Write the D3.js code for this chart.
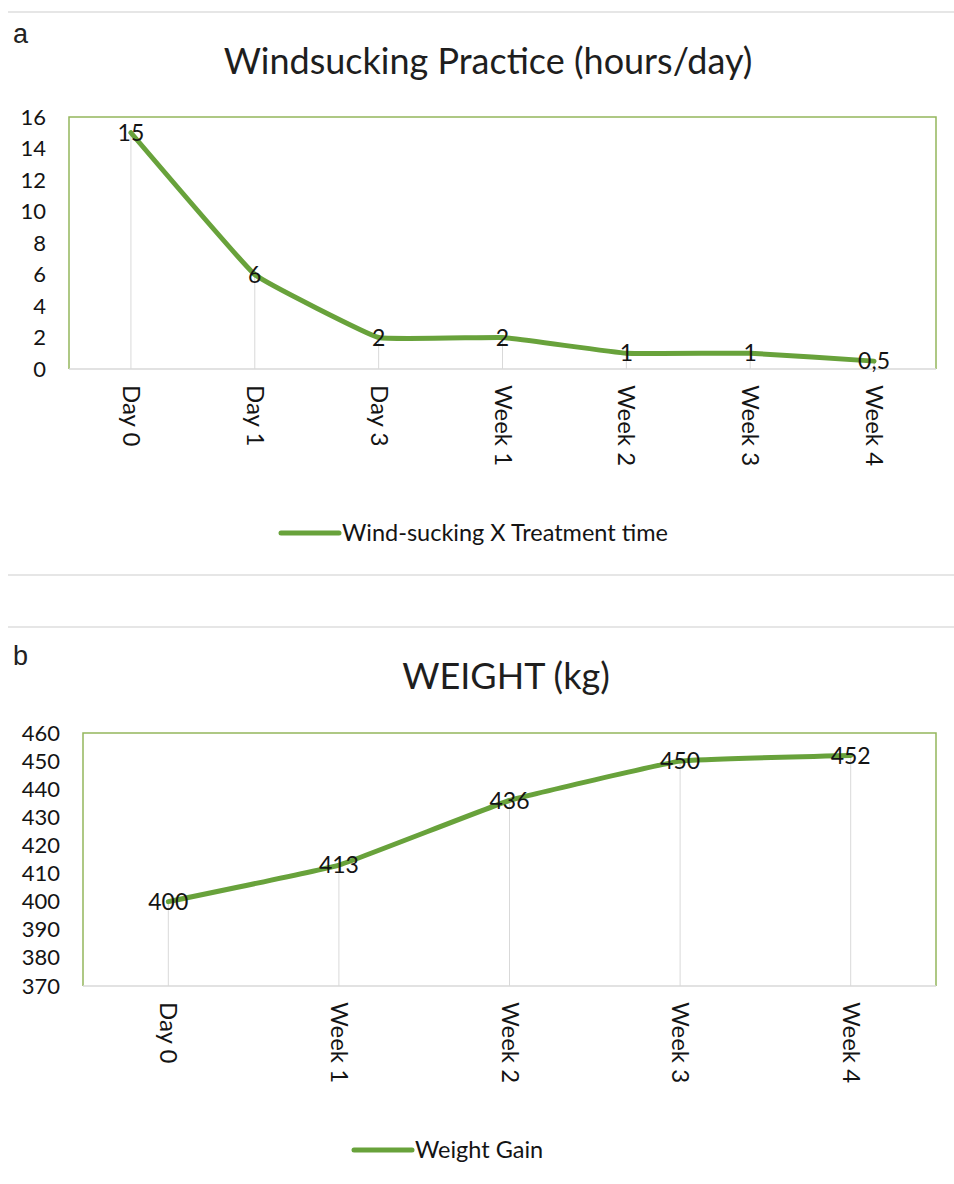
<!DOCTYPE html>
<html>
<head>
<meta charset="utf-8">
<script src="https://cdn.jsdelivr.net/npm/d3@7"></script>
<style>
  body { margin: 0; background: #fff; }
  svg { display: block; }
</style>
</head>
<body>
<svg id="chart" width="954" height="1184"></svg>
<script>
// panel a
const windCategories = ['Day 0', 'Day 1', 'Day 3', 'Week 1', 'Week 2', 'Week 3', 'Week 4'];
const windValues = [15, 6, 2, 2, 1, 1, 0.5];
const windLabels = ['15', '6', '2', '2', '1', '1', '0,5'];
const windTicks = [0, 2, 4, 6, 8, 10, 12, 14, 16];

// panel b
const weightCategories = ['Day 0', 'Week 1', 'Week 2', 'Week 3', 'Week 4'];
const weightValues = [400, 413, 436, 450, 452];
const weightLabels = ['400', '413', '436', '450', '452'];
const weightTicks = [370, 380, 390, 400, 410, 420, 430, 440, 450, 460];

const lineColor = '#68a23b';
const frameColor = '#94b75c';
const gridColor = '#d9d9d9';
const font = 'Lato, "Open Sans", sans-serif';
const textColor = '#141414';

const svg = d3.select('#chart');

// thin gray separators like the source page
[12, 575, 627].forEach(y => {
  svg.append('line')
    .attr('x1', 8).attr('x2', 954)
    .attr('y1', y).attr('y2', y)
    .attr('stroke', '#dedede')
    .attr('stroke-width', 1.5);
});

const drawPanel = (opts) => {
  let { letter, letterY, title, titleX, titleY, left, right, top, bottom,
    categories, values, labels, ticks, legend, legendX, legendY, legendLen } = opts;

  let g = svg.append('g');

  g.append('text')
    .attr('x', 13)
    .attr('y', letterY)
    .attr('font-family', 'Arial, "Liberation Sans", sans-serif')
    .attr('font-size', 27)
    .attr('fill', '#222')
    .text(letter);

  g.append('text')
    .attr('x', titleX)
    .attr('y', titleY)
    .attr('text-anchor', 'middle')
    .attr('font-family', font)
    .attr('font-size', 36)
    .attr('fill', '#1e1e1e')
    .text(title);

  let x = d3.scalePoint()
    .domain(categories)
    .range([left, right])
    .padding(0.5);
  let y = d3.scaleLinear()
    .domain([ticks[0], ticks[ticks.length - 1]])
    .range([bottom, top]);

  // frame: green on three sides, gray category axis at the bottom
  g.append('path')
    .attr('d', `M${left},${bottom} V${top} H${right} V${bottom}`)
    .attr('fill', 'none')
    .attr('stroke', frameColor)
    .attr('stroke-width', 1.5);

  // drop lines from each point to the axis
  g.selectAll('.drop')
    .data(values)
    .enter().append('line')
    .attr('class', 'drop')
    .attr('x1', (d, i) => x(categories[i]))
    .attr('x2', (d, i) => x(categories[i]))
    .attr('y1', d => y(d))
    .attr('y2', bottom)
    .attr('stroke', gridColor)
    .attr('stroke-width', 1);

  g.append('line')
    .attr('x1', left).attr('x2', right)
    .attr('y1', bottom).attr('y2', bottom)
    .attr('stroke', gridColor)
    .attr('stroke-width', 1.5);

  // y ticks
  let yAxis = g.append('g')
    .attr('transform', `translate(${left - 23},0)`)
    .call(d3.axisLeft(y).tickValues(ticks).tickSize(0).tickPadding(0));
  yAxis.select('.domain').remove();
  yAxis.selectAll('text')
    .attr('font-family', font)
    .attr('font-size', 22)
    .attr('fill', textColor);

  // x ticks, rotated to read top-down
  let xAxis = g.append('g')
    .attr('transform', `translate(0,${bottom})`)
    .call(d3.axisBottom(x).tickSize(0).tickPadding(0));
  xAxis.select('.domain').remove();
  xAxis.selectAll('text')
    .attr('font-family', font)
    .attr('font-size', 24)
    .attr('fill', textColor)
    .attr('text-anchor', 'start')
    .attr('dy', '0.35em')
    .attr('transform', 'translate(0,16) rotate(90)')
    .attr('x', 0)
    .attr('y', 0);

  let line = d3.line()
    .x((d, i) => x(categories[i]))
    .y(d => y(d))
    .curve(d3.curveCardinal.tension(0.75));

  g.append('path')
    .datum(values)
    .attr('d', line)
    .attr('fill', 'none')
    .attr('stroke', lineColor)
    .attr('stroke-width', 5)
    .attr('stroke-linejoin', 'round')
    .attr('stroke-linecap', 'round');

  g.selectAll('.label')
    .data(values)
    .enter().append('text')
    .attr('class', 'label')
    .attr('x', (d, i) => x(categories[i]))
    .attr('y', d => y(d))
    .attr('dy', '0.35em')
    .attr('text-anchor', 'middle')
    .attr('font-family', font)
    .attr('font-size', 23)
    .attr('fill', textColor)
    .text((d, i) => labels[i]);

  // legend
  g.append('line')
    .attr('x1', legendX).attr('x2', legendX + legendLen)
    .attr('y1', legendY).attr('y2', legendY)
    .attr('stroke', lineColor)
    .attr('stroke-width', 5)
    .attr('stroke-linecap', 'round');
  g.append('text')
    .attr('x', legendX + legendLen + 3)
    .attr('y', legendY)
    .attr('dy', '0.35em')
    .attr('font-family', font)
    .attr('font-size', 23.5)
    .attr('fill', textColor)
    .text(legend);
};

drawPanel({
  letter: 'a', letterY: 43,
  title: 'Windsucking Practice (hours/day)', titleX: 488, titleY: 74,
  left: 69, right: 936, top: 117, bottom: 369,
  categories: windCategories, values: windValues, labels: windLabels, ticks: windTicks,
  legend: 'Wind-sucking X Treatment time', legendX: 281, legendY: 533, legendLen: 58
});

drawPanel({
  letter: 'b', letterY: 665,
  title: 'WEIGHT (kg)', titleX: 506, titleY: 689,
  left: 83, right: 936, top: 733, bottom: 986,
  categories: weightCategories, values: weightValues, labels: weightLabels, ticks: weightTicks,
  legend: 'Weight Gain', legendX: 354, legendY: 1150, legendLen: 58
});
</script>
</body>
</html>
